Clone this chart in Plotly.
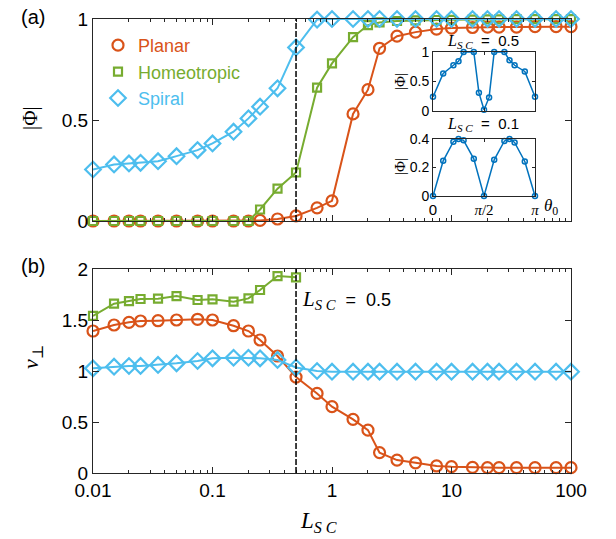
import plotly.graph_objects as go

# ---------------- data ----------------
L_sc = [0.01, 0.015, 0.02, 0.025, 0.035, 0.05, 0.075, 0.1, 0.15, 0.2, 0.25, 0.35, 0.5, 0.75,
        1, 1.5, 2, 2.5, 3.5, 5, 7.5, 10, 15, 20, 25, 35, 50, 75, 100]

phi_planar = [0, 0, 0, 0, 0, 0, 0, 0, 0, 0, 0.003, 0.01, 0.025, 0.065, 0.1, 0.53, 0.65, 0.855,
              0.915, 0.935, 0.95, 0.955, 0.958, 0.96, 0.96, 0.96, 0.962, 0.962, 0.962]
phi_homeo = [0, 0, 0, 0, 0, 0, 0, 0, 0, 0, 0.057, 0.16, 0.24, 0.66, 0.78, 0.91, 0.97, 0.983,
             0.99, 0.993, 0.995, 0.996, 0.997, 0.998, 0.998, 0.999, 0.999, 0.999, 0.999]
phi_spiral = [0.255, 0.28, 0.285, 0.288, 0.296, 0.321, 0.351, 0.384, 0.442, 0.508, 0.566, 0.657,
              0.859, 0.997, 1, 1, 1, 1, 1, 1, 1, 1, 1, 1, 1, 1, 1, 1, 1]

v_planar = [1.392, 1.451, 1.477, 1.49, 1.493, 1.5, 1.507, 1.5, 1.444, 1.392, 1.304, 1.147, 0.94,
            0.78, 0.65, 0.526, 0.42, 0.2, 0.127, 0.10, 0.069, 0.062, 0.055, 0.052, 0.052, 0.052,
            0.052, 0.052, 0.052]
L_sc_homeo = L_sc[:13]
v_homeo = [1.54, 1.66, 1.686, 1.706, 1.709, 1.735, 1.696, 1.703, 1.68, 1.712, 1.794, 1.931, 1.918]
v_spiral = [1.026, 1.042, 1.049, 1.05, 1.059, 1.075, 1.098, 1.124, 1.13, 1.13, 1.124, 1.108, 1.034,
            1.0, 0.993, 0.993, 0.993, 0.993, 0.993, 0.993, 0.993, 0.993, 0.993, 0.993, 0.993,
            0.993, 0.993, 0.993, 0.993]

# insets: theta_0 in units of pi
theta_05 = [0, 0.1, 0.2, 0.25, 0.3, 0.4, 0.45, 0.5, 0.55, 0.6, 0.7, 0.75, 0.8, 0.9, 1]
phi_05 = [0.24, 0.635, 0.775, 0.843, 1, 1, 0.31, 0.02, 0.23, 1, 1, 0.86, 0.775, 0.67, 0.24]
theta_01 = [0, 0.1, 0.2, 0.25, 0.3, 0.4, 0.5, 0.6, 0.7, 0.75, 0.8, 0.9, 1]
phi_01 = [0, 0.247, 0.381, 0.4, 0.391, 0.261, 0, 0.254, 0.386, 0.4, 0.376, 0.242, 0]

x_tickvals = [0.01, 0.1, 1, 10, 100]
x_ticktext = ["0.01", "0.1", "1", "10", "100"]
inset_tickvals = [0, 0.5, 1]
SERIF = "Liberation Serif, DejaVu Serif, serif"
inset_ticktext = ["0", f'<span style="font-family:{SERIF}"><i>π</i>/2</span>',
                  f'<span style="font-family:{SERIF}"><i>π</i></span>']

names = ["Planar", "Homeotropic", "Spiral"]
colors = ["#D95319", "#77AC30", "#4DBEEE"]
symbols = ["circle-open", "square-open", "diamond-open"]
msizes = [11, 8, 12]
INSET = "#0072BD"
AX = "#262626"
SANS = "Liberation Sans, Arial, sans-serif"

minor_vals = [m * 10.0 ** e for e in range(-2, 2) for m in range(2, 10)]

W, H = 616, 539
def px(x):
    return x / W
def py(y):
    return 1 - y / H

fig = go.Figure()

# main panel (a)
for nm, c, s, ms, yv in zip(names, colors, symbols, msizes, [phi_planar, phi_homeo, phi_spiral]):
    fig.add_trace(go.Scatter(x=L_sc, y=yv, mode="lines+markers", xaxis="x", yaxis="y",
                             line=dict(color=c, width=2),
                             marker=dict(symbol=s, size=ms, color=c, line=dict(width=2.2, color=c)),
                             cliponaxis=False, showlegend=False))
# panel (b)
for c, s, ms, xv, yv in zip(colors, symbols, msizes, [L_sc, L_sc_homeo, L_sc],
                            [v_planar, v_homeo, v_spiral]):
    fig.add_trace(go.Scatter(x=xv, y=yv, mode="lines+markers", xaxis="x2", yaxis="y2",
                             line=dict(color=c, width=2),
                             marker=dict(symbol=s, size=ms, color=c, line=dict(width=2.2, color=c)),
                             cliponaxis=False, showlegend=False))
# legend entries (markers only)
for nm, c, s, ms in zip(names, colors, symbols, msizes):
    fig.add_trace(go.Scatter(x=[None], y=[None], mode="markers", xaxis="x", yaxis="y",
                             name=f'<span style="color:{c}">{nm}</span>',
                             marker=dict(symbol=s, size=ms, color=c, line=dict(width=2.2, color=c))))
# insets
fig.add_trace(go.Scatter(x=theta_05, y=phi_05, mode="lines+markers", xaxis="x3", yaxis="y3",
                         line=dict(color=INSET, width=1.5),
                         marker=dict(symbol="circle-open", size=5, color=INSET, line=dict(width=1.5)),
                         cliponaxis=False, showlegend=False))
fig.add_trace(go.Scatter(x=theta_01, y=phi_01, mode="lines+markers", xaxis="x4", yaxis="y4",
                         line=dict(color=INSET, width=1.5),
                         marker=dict(symbol="circle-open", size=5, color=INSET, line=dict(width=1.5)),
                         cliponaxis=False, showlegend=False))

main_dom_x = [px(93), px(571)]
common_x = dict(type="log", range=[-2, 2], domain=main_dom_x, showline=True, linecolor=AX,
                linewidth=1, mirror="ticks", ticks="inside", ticklen=6, tickcolor=AX,
                tickmode="array", tickvals=x_tickvals, ticktext=x_ticktext, showgrid=False,
                zeroline=False, automargin=False,
                minor=dict(ticks="inside", ticklen=3, tickcolor=AX, showgrid=False,
                           tickmode="array", tickvals=minor_vals),
                tickfont=dict(family=SANS, size=19, color="black"))
common_y = dict(showline=True, linecolor=AX, linewidth=1, mirror="ticks", ticks="inside",
                ticklen=6, tickcolor=AX, showgrid=False, zeroline=False, automargin=False,
                tickfont=dict(family=SANS, size=19, color="black"))
inset_x = dict(range=[0, 1], showline=True, linecolor=AX, linewidth=1, mirror="ticks",
               ticks="inside", ticklen=3, tickcolor=AX, showgrid=False, zeroline=False,
               automargin=False, tickvals=inset_tickvals, ticktext=inset_ticktext,
               tickfont=dict(family=SANS, size=15, color="black"))
inset_y = dict(showline=True, linecolor=AX, linewidth=1, mirror="ticks", ticks="inside",
               ticklen=3, tickcolor=AX, showgrid=False, zeroline=False, automargin=False,
               tickfont=dict(family=SANS, size=14, color="black"))

fig.update_layout(
    template="none",
    width=W, height=H, margin=dict(l=0, r=0, t=0, b=0, pad=0, autoexpand=False),
    paper_bgcolor="white", plot_bgcolor="rgba(0,0,0,0)",
    font=dict(family=SANS, color="black"),
    xaxis=dict(common_x, anchor="y", showticklabels=False),
    yaxis=dict(common_y, domain=[py(221), py(19)], range=[0, 1], anchor="x",
               tickvals=[0, 0.5, 1], ticktext=["0", "0.5", "1"]),
    xaxis2=dict(common_x, anchor="y2"),
    yaxis2=dict(common_y, domain=[py(473), py(269)], range=[0, 2], anchor="x2",
                tickvals=[0, 0.5, 1, 1.5, 2], ticktext=["0", "0.5", "1", "1.5", "2"]),
    xaxis3=dict(inset_x, domain=[px(433), px(535)], anchor="y3", showticklabels=False),
    yaxis3=dict(inset_y, domain=[py(111), py(52)], range=[0, 1], anchor="x3",
                tickvals=[0, 0.5, 1], ticktext=["0", "0.5", "1"]),
    xaxis4=dict(inset_x, domain=[px(433), px(535)], anchor="y4"),
    yaxis4=dict(inset_y, domain=[py(196), py(139)], range=[0, 0.4], anchor="x4",
                tickvals=[0, 0.2, 0.4], ticktext=["0", "0.2", "0.4"]),
    legend=dict(x=px(98), y=py(27), xanchor="left", yanchor="top",
                bgcolor="rgba(0,0,0,0)", borderwidth=0, font=dict(family=SANS, size=18),
                itemwidth=30, tracegroupgap=0),
    showlegend=True,
)

# vertical dashed lines at L_SC = 0.5
fig.add_shape(type="line", xref="x", yref="y domain", x0=0.5, x1=0.5, y0=0, y1=1,
              line=dict(color="black", width=1.5, dash="6px,2px"))
fig.add_shape(type="line", xref="x2", yref="y2 domain", x0=0.5, x1=0.5, y0=0, y1=1,
              line=dict(color="black", width=1.5, dash="6px,2px"))

def lsc(size):
    return (f'<span style="font-family:{SERIF};font-size:{size}px"><i>L</i></span>'
            f'<span style="font-family:{SERIF};font-size:{size}px"><sub><i>S C</i></sub></span>')

PHI = f'<span style="font-family:{SERIF}">|Φ|</span>'
ann = [
    dict(x=px(33), y=py(17), text="(a)", font=dict(family=SANS, size=20)),
    dict(x=px(33), y=py(266), text="(b)", font=dict(family=SANS, size=20)),
    dict(x=px(30), y=py(118), text=PHI, textangle=-90, font=dict(size=21)),
    dict(x=px(32), y=py(357), text=f'<span style="font-family:{SERIF}"><i>v</i><sub>⊥</sub></span>',
         textangle=-90, font=dict(size=22)),
    dict(x=px(318), y=py(522), text=lsc(23), font=dict(size=22)),
    dict(x=px(346), y=py(300), text=lsc(21) + "  =  0.5", font=dict(family=SANS, size=18)),
    dict(x=px(483), y=py(41), text=lsc(16) + "  =  0.5", font=dict(family=SANS, size=15)),
    dict(x=px(483), y=py(125), text=lsc(16) + "  =  0.1", font=dict(family=SANS, size=15)),
    dict(x=px(400), y=py(82), text=PHI, textangle=-90, font=dict(size=15)),
    dict(x=px(400), y=py(167), text=PHI, textangle=-90, font=dict(size=15)),
    dict(x=px(551), y=py(207), text=f'<span style="font-family:{SERIF}"><i>θ</i><sub>0</sub></span>',
         font=dict(size=17)),
]
for a in ann:
    fig.add_annotation(xref="paper", yref="paper", showarrow=False, font_color="black",
                       xanchor="center", yanchor="middle", **a)

fig.write_html("out.html", config={"displayModeBar": False},
               post_script="document.body.style.margin='0px';")
